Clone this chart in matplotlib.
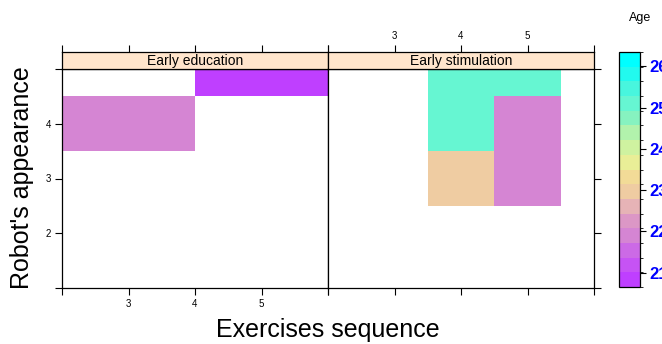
import numpy as np
import matplotlib
matplotlib.use("Agg")
import matplotlib.pyplot as plt
from matplotlib.colors import ListedColormap, BoundaryNorm
from matplotlib.colorbar import ColorbarBase

plt.rcParams["font.family"] = ["Liberation Sans", "DejaVu Sans"]

# data (long format, one row per cell)
panels = ["Early education", "Early stimulation"]
edu_x = [3, 5]
edu_y = [4, 5]
edu_age = [22, 21]
stim_x = [4, 5, 4, 5, 4, 5]
stim_y = [5, 5, 4, 4, 3, 3]
stim_age = [25, 25, 25, 22, 23, 22]
age_range = [21, 26]
x_ticks = [2, 3, 4, 5, 6]
x_labels = ["", "3", "4", "5", ""]
y_ticks = [1, 2, 3, 4, 5]
y_labels = ["", "2", "3", "4", ""]

# 16 colour bands, bottom to top
band_colors = ["#BF3FFF", "#C653F4", "#CC6AE6", "#D585D3", "#DC97C6", "#E6B3B6",
               "#EFCCA2", "#F2DB97", "#E9EE97", "#CFF2A0", "#B2F2AC", "#86F2C0",
               "#66F6D2", "#48F6DE", "#22FAEE", "#00FFFF"]
cmap = ListedColormap(band_colors)
d = age_range[1] - age_range[0]
breaks = np.linspace(age_range[0] - 0.07 * d, age_range[1] + 0.07 * d, 17)
norm = BoundaryNorm(breaks, cmap.N)


def cell_edges(v):
    u = np.unique(v).astype(float)
    if len(u) == 1:
        return np.array([u[0] - 0.5, u[0] + 0.5])
    mids = (u[:-1] + u[1:]) / 2
    return np.concatenate([[(3 * u[0] - u[1]) / 2], mids, [(3 * u[-1] - u[-2]) / 2]])


def grid(xs, ys, zs):
    ux, uy = np.unique(xs), np.unique(ys)
    z = np.full((len(uy), len(ux)), np.nan)
    for x, y, v in zip(xs, ys, zs):
        z[list(uy).index(y), list(ux).index(x)] = v
    return cell_edges(xs), cell_edges(ys), np.ma.masked_invalid(z)


W, H = 662, 344
fig = plt.figure(figsize=(W / 100, H / 100), dpi=100)

px0, pw = 62, 266
top, bot, strip_top = 69, 288, 52
tick_len = 5

data = [(edu_x, edu_y, edu_age), (stim_x, stim_y, stim_age)]
for i, (name, (xs, ys, zs)) in enumerate(zip(panels, data)):
    left = (px0 + i * pw) / W
    ax = fig.add_axes([left, 1 - bot / H, pw / W, (bot - top) / H])
    bx, by, z = grid(xs, ys, zs)
    ax.pcolormesh(bx, by, z, cmap=cmap, norm=norm)
    ax.set_xlim(2, 6)
    ax.set_ylim(1, 5)
    ax.set_xticks(x_ticks)
    ax.set_yticks(y_ticks)
    ax.set_xticklabels(x_labels if i == 0 else [""] * 5, fontsize=7)
    ax.set_yticklabels(y_labels if i == 0 else [""] * 5, fontsize=7)
    if i == 1:
        ax.yaxis.tick_right()
    ax.tick_params(direction="out", length=tick_len, width=0.8, pad=3)
    for s in ax.spines.values():
        s.set_linewidth(0.9)

    # strip
    st = fig.add_axes([left, 1 - top / H, pw / W, (top - strip_top) / H])
    st.set_facecolor("#FFE5CC")
    st.set_xlim(2, 6)
    st.set_yticks([])
    st.xaxis.tick_top()
    st.set_xticks(x_ticks)
    st.set_xticklabels(x_labels if i == 1 else [""] * 5, fontsize=7)
    st.tick_params(direction="out", length=tick_len, width=0.8, pad=3)
    for s in st.spines.values():
        s.set_linewidth(0.9)
    st.text(0.5, 0.45, name, transform=st.transAxes, ha="center", va="center", fontsize=10)

fig.text(328 / W, 1 - 330 / H, "Exercises sequence", ha="center", va="center", fontsize=18)
fig.text(22 / W, 1 - 178 / H, "Robot's appearance", ha="center", va="center",
         rotation=90, fontsize=18)

# colour key
cax = fig.add_axes([619 / W, 1 - 287 / H, 21 / W, 235 / H])
cb = ColorbarBase(cax, cmap=cmap, norm=norm, boundaries=breaks, ticks=[21, 22, 23, 24, 25, 26])
cb.outline.set_linewidth(0.9)
cax.tick_params(direction="out", length=4, width=0.8, pad=3, labelsize=12,
                labelcolor="#0000FF")
for t in cax.get_yticklabels():
    t.set_fontweight("bold")
fig.text(640 / W, 1 - 18 / H, "Age", ha="center", va="center", fontsize=9)

fig.savefig("out.png", dpi=100)
